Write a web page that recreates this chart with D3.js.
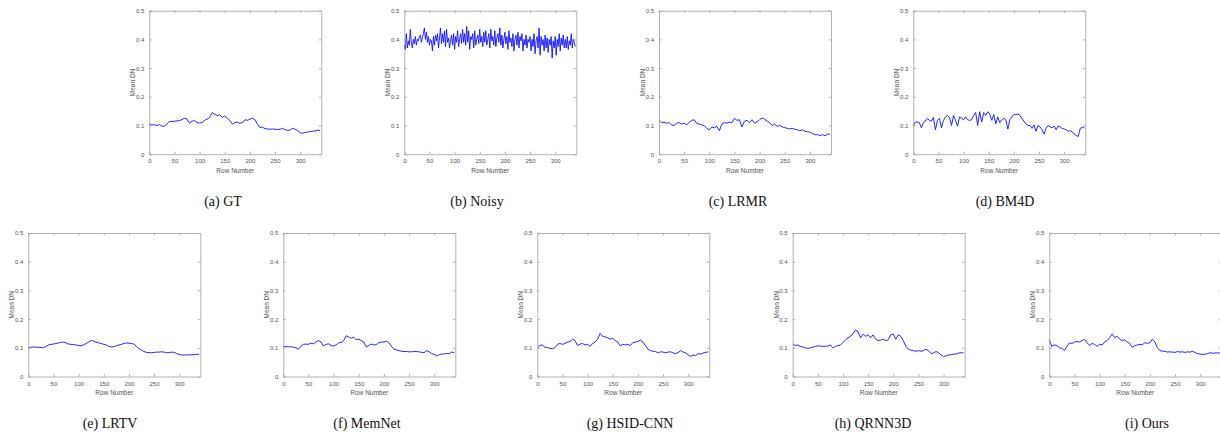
<!DOCTYPE html>
<html><head><meta charset="utf-8">
<script src="https://cdn.jsdelivr.net/npm/d3@7"></script>
<style>body{margin:0;background:#fff}svg{display:block}</style>
</head><body><svg id="c" width="1220" height="436"></svg>
<script>
const rows5 = d3.range(0, 341, 5);
const rows4 = d3.range(0, 341, 4);
const rows2 = d3.range(0, 341, 2);
const xTicks = [0, 50, 100, 150, 200, 250, 300];
const yTicks = [0, 0.1, 0.2, 0.3, 0.4, 0.5];
const yTickLabels = ["0", "0.1", "0.2", "0.3", "0.4", "0.5"];
const captions = ["(a) GT", "(b) Noisy", "(c) LRMR", "(d) BM4D", "(e) LRTV", "(f) MemNet", "(g) HSID-CNN", "(h) QRNN3D", "(i) Ours"];

const gt = [0.105,0.102,0.103,0.100,0.103,0.098,0.097,0.105,0.114,0.114,0.115,0.116,0.118,0.120,0.126,0.122,0.108,0.115,0.117,0.110,0.109,0.110,0.118,0.122,0.128,0.145,0.140,0.134,0.138,0.128,0.133,0.125,0.118,0.105,0.110,0.112,0.108,0.110,0.120,0.118,0.122,0.126,0.120,0.105,0.093,0.094,0.089,0.088,0.087,0.088,0.087,0.086,0.087,0.090,0.085,0.083,0.084,0.090,0.087,0.082,0.075,0.073,0.076,0.077,0.079,0.080,0.081,0.084,0.082];
const noisy = [0.38,0.365,0.42,0.37,0.395,0.38,0.435,0.39,0.37,0.4,0.385,0.41,0.38,0.4,0.395,0.41,0.415,0.39,0.405,0.42,
0.44,0.4,0.425,0.39,0.41,0.38,0.4,0.395,0.36,0.41,0.38,0.415,0.395,0.42,0.37,0.405,0.44,0.385,0.42,0.39,
0.43,0.375,0.435,0.39,0.405,0.37,0.4,0.415,0.38,0.42,0.365,0.41,0.39,0.43,0.375,0.4,0.42,0.385,0.435,0.39,
0.42,0.38,0.445,0.39,0.43,0.365,0.41,0.4,0.42,0.37,0.43,0.38,0.4,0.415,0.385,0.435,0.39,0.41,0.375,0.425,
0.39,0.43,0.38,0.4,0.42,0.37,0.435,0.395,0.41,0.38,0.43,0.375,0.405,0.42,0.39,0.44,0.38,0.415,0.37,0.4,
0.425,0.385,0.41,0.365,0.43,0.39,0.405,0.375,0.42,0.36,0.4,0.415,0.38,0.425,0.37,0.41,0.395,0.42,0.36,0.4,
0.38,0.415,0.37,0.4,0.39,0.41,0.36,0.4,0.375,0.42,0.35,0.395,0.41,0.37,0.44,0.345,0.41,0.38,0.4,0.36,
0.415,0.37,0.405,0.355,0.4,0.38,0.41,0.335,0.395,0.37,0.41,0.345,0.4,0.375,0.42,0.36,0.405,0.38,0.415,0.37,
0.4,0.37,0.41,0.365,0.395,0.38,0.42,0.37,0.4,0.39,0.375];
const lrmr = [0.118,0.110,0.112,0.108,0.110,0.102,0.100,0.108,0.110,0.105,0.108,0.103,0.110,0.118,0.120,0.108,0.105,0.102,0.100,0.090,0.085,0.095,0.092,0.097,0.082,0.105,0.110,0.108,0.112,0.110,0.125,0.118,0.120,0.095,0.115,0.118,0.110,0.120,0.108,0.112,0.120,0.126,0.122,0.115,0.110,0.100,0.105,0.097,0.100,0.095,0.093,0.090,0.088,0.090,0.087,0.085,0.082,0.085,0.080,0.078,0.077,0.072,0.068,0.068,0.065,0.068,0.064,0.070,0.070];
const bm4d = [0.098,0.112,0.112,0.110,0.092,0.110,0.115,0.125,0.118,0.115,0.128,0.085,0.118,0.125,0.092,0.118,0.130,0.135,0.128,0.100,0.135,0.118,0.098,0.130,0.125,0.120,0.130,0.120,0.118,0.120,0.135,0.145,0.100,0.148,0.112,0.145,0.135,0.148,0.140,0.118,0.138,0.105,0.130,0.110,0.120,0.125,0.120,0.088,0.120,0.130,0.138,0.138,0.140,0.135,0.125,0.115,0.105,0.100,0.100,0.090,0.102,0.080,0.100,0.095,0.085,0.070,0.090,0.100,0.095,0.092,0.098,0.085,0.098,0.095,0.090,0.088,0.085,0.080,0.082,0.078,0.070,0.065,0.062,0.090,0.093,0.092];
const lrtv = [0.100,0.102,0.103,0.102,0.102,0.101,0.100,0.105,0.110,0.112,0.113,0.115,0.117,0.119,0.120,0.117,0.113,0.112,0.111,0.110,0.108,0.107,0.110,0.115,0.120,0.126,0.123,0.120,0.117,0.115,0.112,0.110,0.105,0.103,0.104,0.107,0.110,0.112,0.115,0.117,0.116,0.115,0.113,0.105,0.097,0.092,0.087,0.084,0.083,0.083,0.084,0.085,0.085,0.086,0.085,0.083,0.083,0.085,0.084,0.080,0.077,0.075,0.075,0.075,0.075,0.076,0.076,0.077,0.078];
const memnet = [0.105,0.104,0.103,0.104,0.102,0.100,0.095,0.105,0.112,0.113,0.112,0.116,0.114,0.120,0.125,0.120,0.106,0.112,0.114,0.108,0.106,0.110,0.117,0.118,0.125,0.142,0.138,0.133,0.137,0.128,0.130,0.125,0.120,0.103,0.108,0.113,0.110,0.111,0.118,0.120,0.120,0.123,0.118,0.105,0.095,0.093,0.090,0.088,0.087,0.087,0.086,0.086,0.087,0.087,0.086,0.084,0.083,0.090,0.086,0.080,0.077,0.072,0.076,0.078,0.079,0.080,0.080,0.085,0.083];
const hsid = [0.100,0.108,0.110,0.102,0.101,0.098,0.097,0.100,0.112,0.115,0.112,0.115,0.120,0.122,0.130,0.125,0.108,0.113,0.115,0.110,0.112,0.105,0.115,0.120,0.130,0.150,0.140,0.138,0.135,0.130,0.133,0.125,0.120,0.107,0.112,0.110,0.112,0.108,0.118,0.120,0.122,0.127,0.120,0.108,0.095,0.090,0.088,0.087,0.082,0.086,0.085,0.083,0.085,0.086,0.082,0.080,0.083,0.090,0.085,0.082,0.075,0.070,0.075,0.073,0.080,0.078,0.082,0.084,0.086];
const qrnn = [0.113,0.108,0.110,0.105,0.103,0.100,0.098,0.100,0.102,0.105,0.107,0.106,0.105,0.105,0.106,0.110,0.100,0.105,0.108,0.110,0.118,0.128,0.135,0.140,0.150,0.162,0.155,0.135,0.148,0.140,0.145,0.135,0.145,0.130,0.125,0.127,0.130,0.125,0.128,0.145,0.148,0.130,0.145,0.140,0.125,0.105,0.095,0.092,0.090,0.088,0.090,0.088,0.090,0.095,0.090,0.080,0.082,0.087,0.083,0.075,0.070,0.072,0.075,0.076,0.078,0.078,0.082,0.083,0.082];
const ours = [0.128,0.105,0.110,0.108,0.100,0.098,0.090,0.105,0.117,0.115,0.120,0.122,0.120,0.125,0.130,0.118,0.108,0.115,0.112,0.105,0.112,0.110,0.120,0.125,0.135,0.148,0.135,0.140,0.130,0.125,0.128,0.120,0.115,0.102,0.108,0.110,0.112,0.110,0.118,0.115,0.118,0.130,0.120,0.100,0.090,0.088,0.088,0.085,0.086,0.085,0.084,0.087,0.085,0.086,0.084,0.086,0.085,0.088,0.083,0.080,0.078,0.077,0.078,0.080,0.083,0.081,0.082,0.082,0.082];

const panels = [
  {x: rows5, y: gt,     left: 149.3, top: 10.7, cap: 223},
  {x: rows2, y: noisy,  left: 404.3, top: 10.7, cap: 477},
  {x: rows5, y: lrmr,   left: 659,   top: 10.7, cap: 738},
  {x: rows4, y: bm4d,   left: 913.3, top: 10.7, cap: 1005},
  {x: rows5, y: lrtv,   left: 28.3,  top: 233,  cap: 110},
  {x: rows5, y: memnet, left: 283.3, top: 233,  cap: 367},
  {x: rows5, y: hsid,   left: 537.3, top: 233,  cap: 630},
  {x: rows5, y: qrnn,   left: 792.7, top: 233,  cap: 873},
  {x: rows5, y: ours,   left: 1049.3,top: 233,  cap: 1147}
];
const W = 172, H = 143.5;
const svg = d3.select("#c");
const axisCol = "#a0a0a0", txtCol = "#555";

panels.forEach((p, i) => {
  const g = svg.append("g").attr("transform", `translate(${p.left},${p.top})`);
  const x = d3.scaleLinear().domain([0, 342]).range([0, W]);
  const y = d3.scaleLinear().domain([0, 0.5]).range([H, 0]);
  // line
  const pts = p.x.map((v, k) => [v, p.y[k]]);
  g.append("path").datum(pts)
    .attr("fill", "none").attr("stroke", "#1010ff").attr("stroke-width", 0.9)
    .attr("d", d3.line().x(d => x(d[0])).y(d => y(d[1])));
  // axes (MATLAB style, ticks inward on all sides)
  const styleAx = sel => {
    sel.selectAll(".domain").attr("stroke", axisCol).attr("stroke-width", 0.8);
    sel.selectAll(".tick line").attr("stroke", axisCol).attr("stroke-width", 0.8);
    sel.selectAll("text").attr("fill", txtCol).attr("font-family", "Liberation Sans, Arial, sans-serif").attr("font-size", 6);
  };
  const bx = g.append("g").attr("transform", `translate(0,${H})`)
    .call(d3.axisBottom(x).tickValues(xTicks).tickFormat(d3.format("d")).tickSizeInner(-2.5).tickSizeOuter(0).tickPadding(5));
  styleAx(bx);
  const tx = g.append("g").call(d3.axisTop(x).tickValues(xTicks).tickFormat("").tickSizeInner(-2.5).tickSizeOuter(0));
  styleAx(tx);
  const ly = g.append("g")
    .call(d3.axisLeft(y).tickValues(yTicks).tickFormat((d, k) => yTickLabels[k]).tickSizeInner(-2.5).tickSizeOuter(0).tickPadding(5));
  styleAx(ly);
  const ry = g.append("g").attr("transform", `translate(${W},0)`)
    .call(d3.axisRight(y).tickValues(yTicks).tickFormat("").tickSizeInner(-2.5).tickSizeOuter(0));
  styleAx(ry);
  g.append("text").attr("x", W / 2).attr("y", H + 18.5).attr("text-anchor", "middle")
    .attr("fill", txtCol).attr("font-family", "Liberation Sans, Arial, sans-serif").attr("font-size", 6.5)
    .text("Row Number");
  g.append("text").attr("transform", `translate(-14,${H / 2}) rotate(-90)`).attr("text-anchor", "middle")
    .attr("fill", txtCol).attr("font-family", "Liberation Sans, Arial, sans-serif").attr("font-size", 6.5)
    .text("Mean DN");
  svg.append("text").attr("x", p.cap).attr("y", p.top < 100 ? 206 : 428).attr("text-anchor", "middle")
    .attr("fill", "#111").attr("font-family", "Liberation Serif, Times New Roman, serif").attr("font-size", 14)
    .text(captions[i]);
});
</script></body></html>
